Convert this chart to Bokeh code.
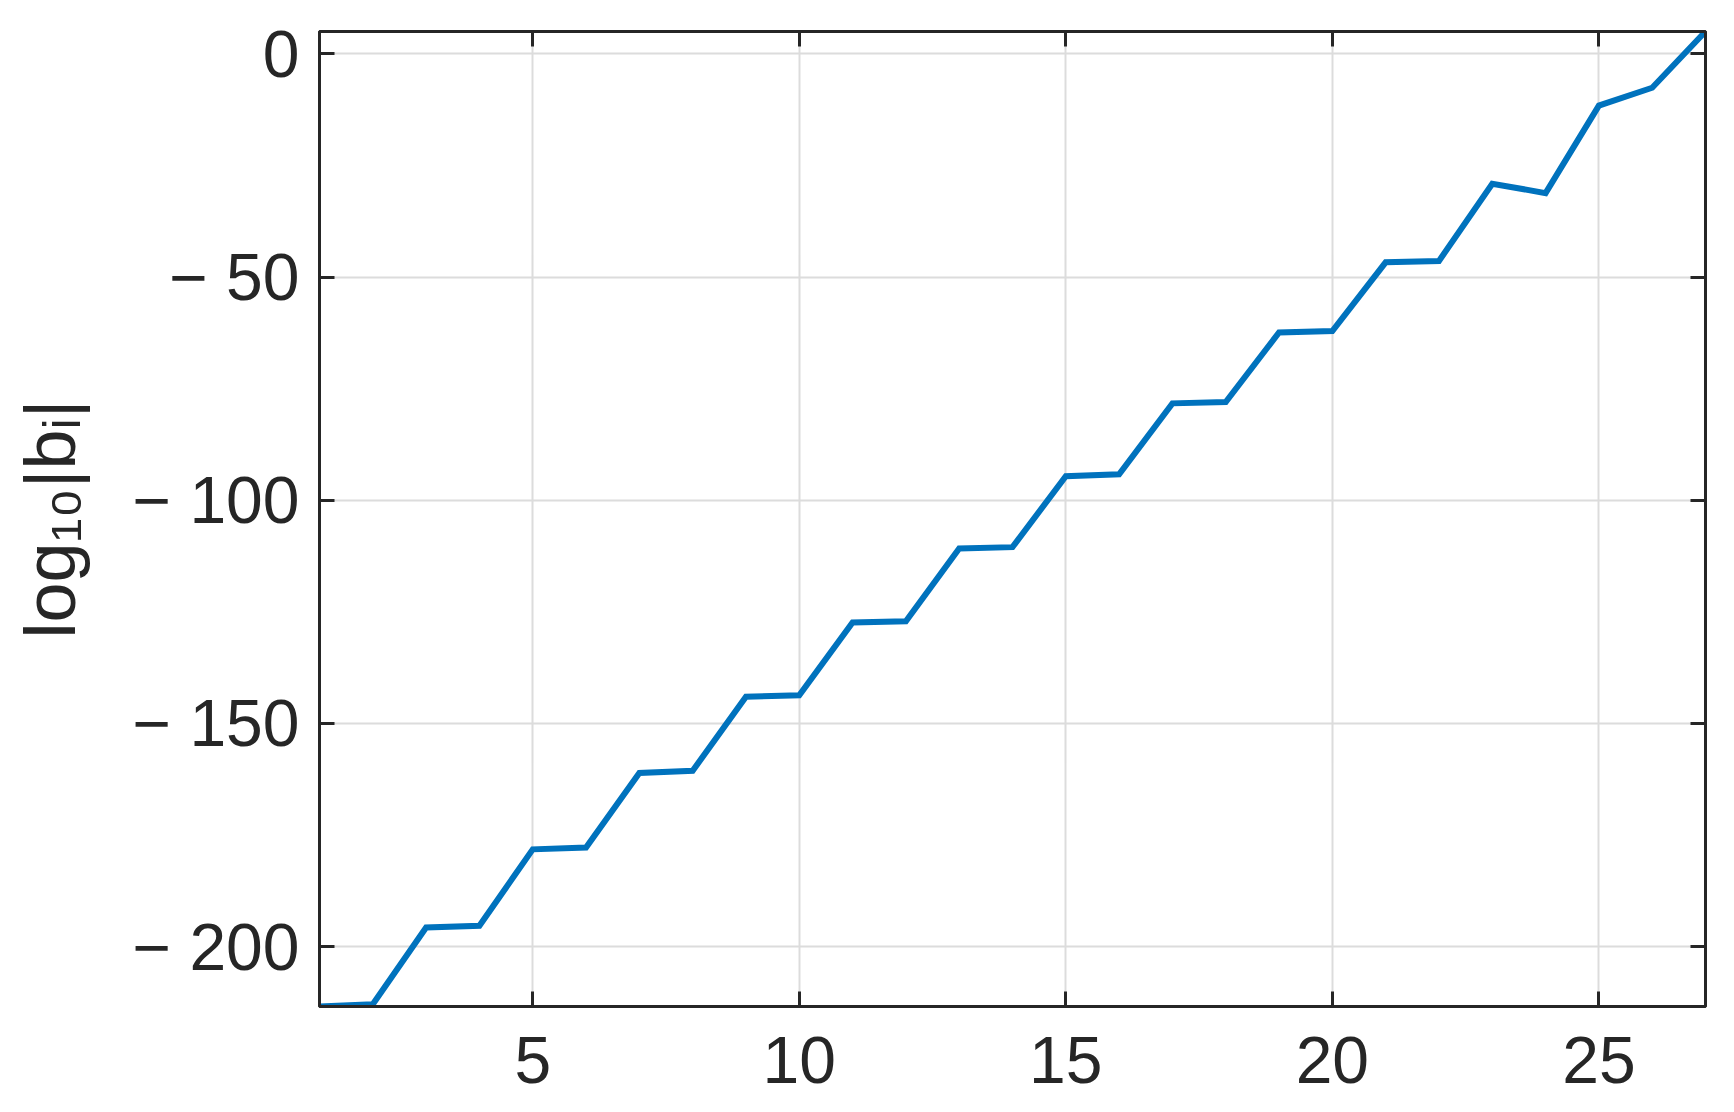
from bokeh.plotting import figure
from bokeh.models import Range1d, LinearAxis, FixedTicker
from bokeh.embed import file_html
from bokeh.resources import INLINE

# ---- data ----
index_i = list(range(1, 28))
log10_abs_b = [-213.4, -212.9, -195.7, -195.3, -178.2, -177.8, -161.1, -160.6,
               -144.0, -143.7, -127.4, -127.1, -110.8, -110.5, -94.6, -94.2,
               -78.3, -78.0, -62.4, -62.1, -46.7, -46.4, -29.1, -31.2,
               -11.6, -7.6, 5.0]
x_ticks = [5, 10, 15, 20, 25]
x_tick_labels = ["5", "10", "15", "20", "25"]
y_ticks = [-200, -150, -100, -50, 0]
y_tick_labels = ["\u2212 200", "\u2212 150", "\u2212 100", "\u2212 50", "0"]
y_label = "log\u2081\u2080|b\u1d62|"

AX = "#262626"
FONT = "Liberation Sans"

p = figure(width=1730, height=1111, output_backend="svg", toolbar_location=None,
           x_range=Range1d(min(index_i), max(index_i)),
           y_range=Range1d(min(log10_abs_b), max(log10_abs_b)),
           min_border_left=319, min_border_right=25, min_border_top=31,
           min_border_bottom=105)
p.background_fill_color = "white"
p.border_fill_color = "white"
p.outline_line_color = AX
p.outline_line_width = 3

p.line(index_i, log10_abs_b, line_color="#0072BD", line_width=6, line_join="miter")

def style_axis(ax, ticks, labels, show_labels):
    ax.ticker = FixedTicker(ticks=ticks)
    ax.axis_line_color = AX
    ax.axis_line_width = 3
    ax.major_tick_line_color = AX
    ax.major_tick_line_width = 3
    ax.major_tick_in = 15
    ax.major_tick_out = 0
    ax.minor_tick_line_color = None
    ax.major_label_text_font = FONT
    if show_labels:
        ax.major_label_overrides = {t: l for t, l in zip(ticks, labels)}
        ax.major_label_text_font_size = "66px"
        ax.major_label_text_color = AX
    else:
        ax.major_label_text_font_size = "0px"
        ax.major_label_text_color = None
        ax.major_label_standoff = 0

style_axis(p.xaxis[0], x_ticks, x_tick_labels, True)
style_axis(p.yaxis[0], y_ticks, y_tick_labels, True)
p.xaxis[0].major_label_standoff = 30
p.yaxis[0].major_label_standoff = 20

p.yaxis[0].axis_label = y_label
p.yaxis[0].axis_label_text_font = FONT
p.yaxis[0].axis_label_text_font_size = "72px"
p.yaxis[0].axis_label_text_font_style = "normal"
p.yaxis[0].axis_label_text_color = AX
p.yaxis[0].axis_label_standoff = 40

top_ax = LinearAxis()
right_ax = LinearAxis()
style_axis(top_ax, x_ticks, x_tick_labels, False)
style_axis(right_ax, y_ticks, y_tick_labels, False)
p.add_layout(top_ax, "above")
p.add_layout(right_ax, "right")

p.xgrid.ticker = FixedTicker(ticks=x_ticks)
p.ygrid.ticker = FixedTicker(ticks=y_ticks)
for g in (p.xgrid[0], p.ygrid[0]):
    g.grid_line_color = "#dcdcdc"
    g.grid_line_width = 2

open("out.html", "w").write(file_html(p, INLINE))
